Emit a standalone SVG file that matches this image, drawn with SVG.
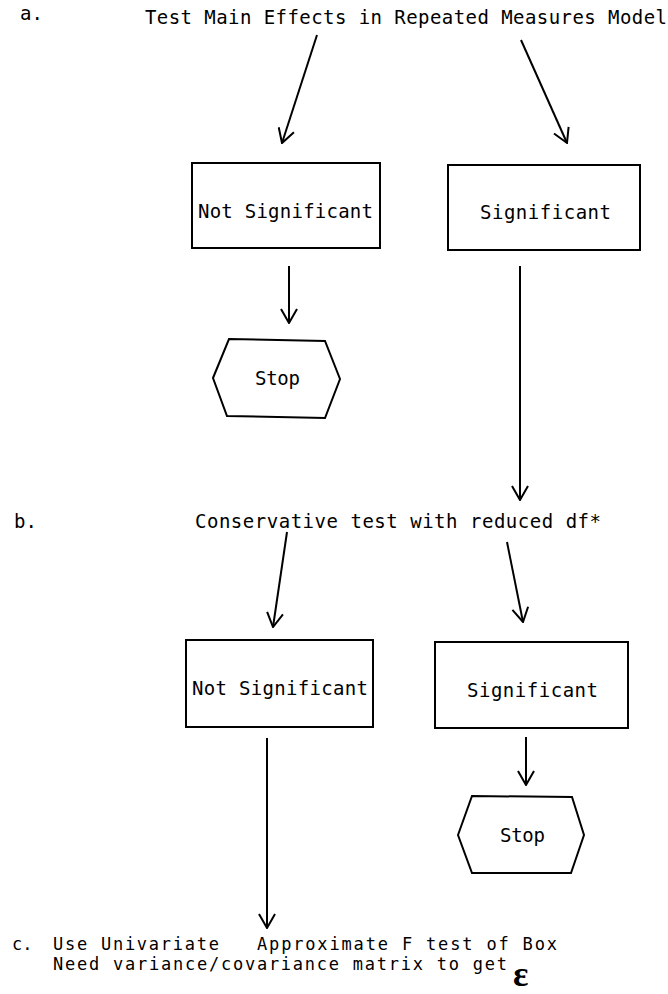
<svg xmlns="http://www.w3.org/2000/svg" width="668" height="994" viewBox="0 0 668 994">
<style>
text{font-family:"DejaVu Sans Mono","Liberation Mono",monospace;font-size:19px;fill:#000;}
.sm{font-size:17px;}
.box{fill:#fff;stroke:#000;stroke-width:2;}
.ln{stroke:#000;stroke-width:2;fill:none;marker-end:url(#ah);}
.eps{font-family:"Liberation Serif","DejaVu Serif",serif;font-weight:bold;font-size:36px;}
</style>
<defs>
<marker id="ah" viewBox="0 0 16 18" refX="15" refY="9" markerWidth="16" markerHeight="18" markerUnits="userSpaceOnUse" orient="auto">
<path d="M1,1 L15,9 L1,17" fill="none" stroke="#000" stroke-width="2"/>
</marker>
</defs>
<rect width="668" height="994" fill="#fff"/>
<g id="labels">
<text x="20" y="20">a.</text>
<text x="14" y="528">b.</text>
<text class="sm" x="12" y="950">c.</text>
</g>
<g id="title-a"><text x="145" y="24" textLength="522" lengthAdjust="spacing">Test Main Effects in Repeated Measures Model</text></g>
<g id="a-notsig"><rect class="box" x="192" y="163" width="188" height="85"/><text x="198" y="218" textLength="175" lengthAdjust="spacing">Not Significant</text></g>
<g id="a-sig"><rect class="box" x="448" y="165" width="192" height="85"/><text x="480" y="219" textLength="131" lengthAdjust="spacing">Significant</text></g>
<g id="stop-a"><polygon class="box" points="213,378 229,339 325,341 340,379 325,418 227,416"/><text x="255" y="385" textLength="45" lengthAdjust="spacing">Stop</text></g>
<g id="title-b"><text x="195" y="528" textLength="406" lengthAdjust="spacing">Conservative test with reduced df*</text></g>
<g id="b-notsig"><rect class="box" x="186" y="640" width="187" height="87"/><text x="192" y="695" textLength="176" lengthAdjust="spacing">Not Significant</text></g>
<g id="b-sig"><rect class="box" x="435" y="642" width="193" height="86"/><text x="467" y="697" textLength="131" lengthAdjust="spacing">Significant</text></g>
<g id="stop-b"><polygon class="box" points="458,835 472,796 572,797 584,835 571,873 472,873"/><text x="500" y="842" textLength="45" lengthAdjust="spacing">Stop</text></g>
<g id="text-c">
<text class="sm" x="53" y="950" textLength="166" lengthAdjust="spacing">Use Univariate</text>
<text class="sm" x="257" y="950" textLength="300" lengthAdjust="spacing">Approximate F test of Box</text>
<text class="sm" x="53" y="970" textLength="454" lengthAdjust="spacing">Need variance/covariance matrix to get</text>
<text class="eps" x="513" y="986">ε</text>
</g>
<g id="connectors">
<line class="ln" x1="317" y1="35" x2="282" y2="143"/>
<line class="ln" x1="521" y1="40" x2="567" y2="143"/>
<line class="ln" x1="289" y1="266" x2="289" y2="323"/>
<line class="ln" x1="520" y1="266" x2="520" y2="500"/>
<line class="ln" x1="287" y1="532" x2="273" y2="627"/>
<line class="ln" x1="507" y1="542" x2="523" y2="622"/>
<line class="ln" x1="526" y1="737" x2="526" y2="785"/>
<line class="ln" x1="267" y1="738" x2="267" y2="928"/>
</g>
</svg>
